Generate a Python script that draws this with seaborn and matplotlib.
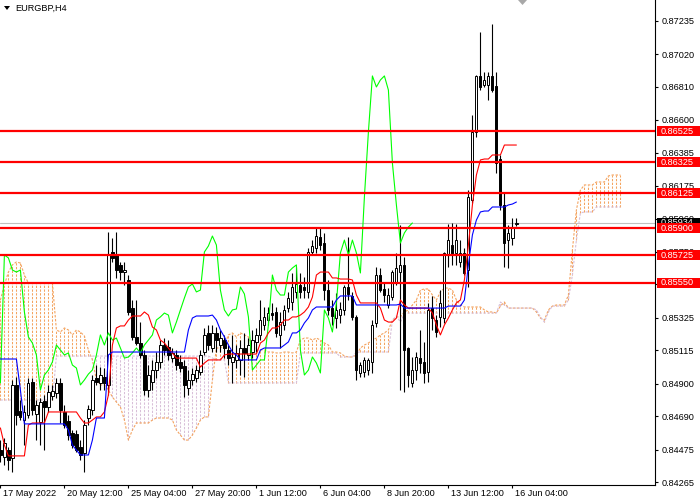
import matplotlib
matplotlib.use("Agg")
import numpy as np
import matplotlib.pyplot as plt
import matplotlib.transforms as mtransforms
from matplotlib.patches import Rectangle, Polygon
import seaborn as sns

symbol_title = "EURGBP,H4"

opens = [0.84472, 0.84427, 0.84472, 0.84421, 0.84891, 0.84723, 0.84665, 0.84697, 0.84910, 0.84704,
         0.84652, 0.84788, 0.84749, 0.84820, 0.84839, 0.84904, 0.84717, 0.84659, 0.84581, 0.84575,
         0.84491, 0.84453, 0.84678, 0.84730, 0.84936, 0.84904, 0.84942, 0.84891, 0.85747, 0.85728,
         0.85664, 0.85618, 0.85567, 0.85386, 0.85200, 0.85161, 0.85084, 0.84858, 0.84910, 0.84987,
         0.85039, 0.85148, 0.85135, 0.85064, 0.85084, 0.85039, 0.85013, 0.84871, 0.84923, 0.84936,
         0.84974, 0.85103, 0.85226, 0.85129, 0.85226, 0.85148, 0.85180, 0.85116, 0.85039, 0.85052,
         0.85052, 0.85129, 0.85084, 0.85103, 0.85168, 0.85213, 0.85277, 0.85309, 0.85354, 0.85361,
         0.85213, 0.85277, 0.85386, 0.85425, 0.85490, 0.85535, 0.85522, 0.85490, 0.85747, 0.85773,
         0.85844, 0.85805, 0.85502, 0.85386, 0.85322, 0.85341, 0.85374, 0.85522, 0.85464, 0.85329,
         0.84968, 0.84974, 0.84987, 0.85039, 0.85290, 0.85599, 0.85509, 0.85406, 0.85457, 0.85554,
         0.85618, 0.85664, 0.85129, 0.84904, 0.84987, 0.85064, 0.85039, 0.84974, 0.85386, 0.85309,
         0.85329, 0.85322, 0.85728, 0.85792, 0.85741, 0.85683, 0.85741, 0.85631, 0.86082, 0.86520,
         0.86881, 0.86823, 0.86823, 0.86881, 0.86816, 0.86346, 0.86050, 0.85824, 0.85837, 0.85927]
highs = [0.84536, 0.84549, 0.84491, 0.84923, 0.84942, 0.84794, 0.84762, 0.84936, 0.84936, 0.84794,
         0.84807, 0.84826, 0.84891, 0.84891, 0.84936, 0.84936, 0.84762, 0.84697, 0.84601, 0.84601,
         0.84536, 0.84665, 0.84762, 0.84955, 0.85019, 0.85006, 0.85000, 0.85876, 0.85837, 0.85876,
         0.85683, 0.85683, 0.85599, 0.85438, 0.85438, 0.85296, 0.85116, 0.85019, 0.85052, 0.85103,
         0.85180, 0.85193, 0.85180, 0.85129, 0.85116, 0.85084, 0.85052, 0.84987, 0.85000, 0.85019,
         0.85116, 0.85258, 0.85277, 0.85277, 0.85264, 0.85245, 0.85213, 0.85148, 0.85213, 0.85148,
         0.85180, 0.85226, 0.85193, 0.85245, 0.85258, 0.85438, 0.85393, 0.85393, 0.85419, 0.85393,
         0.85361, 0.85406, 0.85490, 0.85612, 0.85651, 0.85612, 0.85586, 0.85773, 0.85824, 0.85902,
         0.85902, 0.85870, 0.85567, 0.85438, 0.85483, 0.85425, 0.85535, 0.85844, 0.85490, 0.85341,
         0.85039, 0.85071, 0.85064, 0.85309, 0.85651, 0.85644, 0.85547, 0.85515, 0.85631, 0.85741,
         0.85921, 0.85715, 0.85135, 0.85071, 0.85103, 0.85245, 0.85168, 0.85419, 0.85464, 0.85341,
         0.85502, 0.85747, 0.85927, 0.85934, 0.85927, 0.85824, 0.85773, 0.86146, 0.86629, 0.86887,
         0.87164, 0.86906, 0.86906, 0.87215, 0.86906, 0.86372, 0.86127, 0.85921, 0.85966, 0.85966]
lows = [0.84395, 0.84375, 0.84343, 0.84330, 0.84633, 0.84665, 0.84504, 0.84678, 0.84697, 0.84536,
        0.84504, 0.84472, 0.84717, 0.84794, 0.84807, 0.84646, 0.84614, 0.84536, 0.84485, 0.84459,
        0.84408, 0.84330, 0.84633, 0.84697, 0.84891, 0.84858, 0.84858, 0.84826, 0.85683, 0.85580,
        0.85567, 0.85535, 0.85341, 0.85180, 0.85148, 0.85064, 0.84826, 0.84813, 0.84858, 0.84936,
        0.85000, 0.85084, 0.85052, 0.85039, 0.84987, 0.84974, 0.84813, 0.84826, 0.84891, 0.84910,
        0.84955, 0.85084, 0.85116, 0.85103, 0.85103, 0.85103, 0.85064, 0.85019, 0.84904, 0.85000,
        0.84955, 0.84942, 0.85052, 0.85064, 0.85103, 0.85180, 0.85245, 0.85277, 0.85309, 0.85200,
        0.85129, 0.85245, 0.85361, 0.85374, 0.85451, 0.85451, 0.85451, 0.85451, 0.85728, 0.85741,
        0.85760, 0.85438, 0.85341, 0.85277, 0.85258, 0.85290, 0.85341, 0.85438, 0.85309, 0.84923,
        0.84942, 0.84942, 0.84955, 0.84968, 0.85264, 0.85490, 0.85425, 0.85386, 0.85438, 0.85535,
        0.84858, 0.84846, 0.84878, 0.84878, 0.84923, 0.84968, 0.84904, 0.84910, 0.85245, 0.85200,
        0.85264, 0.85290, 0.85651, 0.85664, 0.85664, 0.85651, 0.85599, 0.85522, 0.86063, 0.86488,
        0.86790, 0.86810, 0.86726, 0.86778, 0.86256, 0.86018, 0.85651, 0.85644, 0.85792, 0.85915]
closes = [0.84440, 0.84517, 0.84408, 0.84891, 0.84697, 0.84685, 0.84717, 0.84904, 0.84730, 0.84762,
          0.84781, 0.84749, 0.84846, 0.84852, 0.84904, 0.84730, 0.84633, 0.84569, 0.84504, 0.84472,
          0.84440, 0.84633, 0.84736, 0.84923, 0.84910, 0.84955, 0.84904, 0.85728, 0.85709, 0.85631,
          0.85618, 0.85631, 0.85361, 0.85200, 0.85161, 0.85084, 0.84858, 0.84955, 0.84987, 0.85039,
          0.85148, 0.85116, 0.85084, 0.85097, 0.85019, 0.85000, 0.84891, 0.84923, 0.84961, 0.84987,
          0.85084, 0.85213, 0.85148, 0.85226, 0.85180, 0.85193, 0.85129, 0.85064, 0.85071, 0.85097,
          0.85129, 0.85097, 0.85148, 0.85180, 0.85213, 0.85309, 0.85329, 0.85354, 0.85341, 0.85226,
          0.85296, 0.85374, 0.85451, 0.85522, 0.85541, 0.85490, 0.85502, 0.85747, 0.85786, 0.85850,
          0.85792, 0.85502, 0.85374, 0.85335, 0.85374, 0.85380, 0.85522, 0.85477, 0.85329, 0.84987,
          0.85019, 0.85052, 0.85052, 0.85277, 0.85599, 0.85502, 0.85470, 0.85470, 0.85618, 0.85644,
          0.85664, 0.85116, 0.84955, 0.84987, 0.85071, 0.85032, 0.84968, 0.85374, 0.85322, 0.85232,
          0.85419, 0.85741, 0.85824, 0.85728, 0.85824, 0.85741, 0.85612, 0.86101, 0.86520, 0.86881,
          0.86810, 0.86855, 0.86881, 0.86790, 0.86320, 0.86050, 0.85805, 0.85870, 0.85908, 0.85934]

tenkan = [0.84614, 0.84504, 0.84434, 0.84434, 0.84434, 0.84434, 0.84434, 0.84633, 0.84646, 0.84646,
          0.84646, 0.84646, 0.84717, 0.84717, 0.84717, 0.84717, 0.84717, 0.84717, 0.84717, 0.84717,
          0.84678, 0.84646, 0.84646, 0.84665, 0.84685, 0.84685, 0.84717, 0.84826, 0.85148, 0.85258,
          0.85271, 0.85271, 0.85309, 0.85335, 0.85335, 0.85335, 0.85361, 0.85341, 0.85264, 0.85245,
          0.85180, 0.85161, 0.85129, 0.85097, 0.85064, 0.85064, 0.85064, 0.85064, 0.85064, 0.85064,
          0.85006, 0.85032, 0.85052, 0.85052, 0.85052, 0.85052, 0.85084, 0.85090, 0.85090, 0.85090,
          0.85090, 0.85090, 0.85090, 0.85090, 0.85090, 0.85161, 0.85180, 0.85226, 0.85258, 0.85258,
          0.85277, 0.85309, 0.85309, 0.85329, 0.85329, 0.85341, 0.85361, 0.85393, 0.85457, 0.85599,
          0.85618, 0.85618, 0.85618, 0.85580, 0.85580, 0.85573, 0.85573, 0.85573, 0.85567, 0.85470,
          0.85419, 0.85419, 0.85419, 0.85419, 0.85419, 0.85386, 0.85309, 0.85296, 0.85296, 0.85322,
          0.85438, 0.85406, 0.85386, 0.85386, 0.85386, 0.85386, 0.85386, 0.85386, 0.85354, 0.85277,
          0.85213, 0.85277, 0.85322, 0.85374, 0.85419, 0.85438, 0.85567, 0.85792, 0.86050, 0.86243,
          0.86340, 0.86346, 0.86346, 0.86372, 0.86372, 0.86372, 0.86436, 0.86436, 0.86436, 0.86436]

kijun = [0.85058, 0.85058, 0.85058, 0.85058, 0.85058, 0.84858, 0.84640, 0.84640, 0.84640, 0.84640,
         0.84640, 0.84640, 0.84640, 0.84640, 0.84640, 0.84640, 0.84640, 0.84601, 0.84504, 0.84472,
         0.84440, 0.84440, 0.84440, 0.84536, 0.84678, 0.84678, 0.84678, 0.85084, 0.85103, 0.85103,
         0.85103, 0.85103, 0.85103, 0.85103, 0.85103, 0.85103, 0.85103, 0.85103, 0.85103, 0.85103,
         0.85103, 0.85103, 0.85103, 0.85103, 0.85103, 0.85103, 0.85103, 0.85245, 0.85322, 0.85335,
         0.85335, 0.85335, 0.85335, 0.85341, 0.85309, 0.85245, 0.85200, 0.85148, 0.85103, 0.85084,
         0.85052, 0.85052, 0.85052, 0.85052, 0.85052, 0.85116, 0.85129, 0.85129, 0.85129, 0.85129,
         0.85129, 0.85148, 0.85168, 0.85226, 0.85226, 0.85245, 0.85290, 0.85322, 0.85374, 0.85393,
         0.85393, 0.85393, 0.85393, 0.85393, 0.85438, 0.85464, 0.85464, 0.85464, 0.85464, 0.85406,
         0.85406, 0.85406, 0.85406, 0.85406, 0.85406, 0.85406, 0.85406, 0.85406, 0.85406, 0.85406,
         0.85412, 0.85386, 0.85386, 0.85386, 0.85386, 0.85386, 0.85386, 0.85386, 0.85386, 0.85386,
         0.85386, 0.85386, 0.85399, 0.85399, 0.85399, 0.85399, 0.85438, 0.85664, 0.85857, 0.85953,
         0.86005, 0.86011, 0.86011, 0.86037, 0.86037, 0.86037, 0.86037, 0.86050, 0.86056, 0.86069]

senkou_a = [0.85438, 0.85535, 0.85618, 0.85664, 0.85683, 0.85676, 0.85599, 0.85547, 0.85547, 0.85547,
            0.85547, 0.85547, 0.85547, 0.85547, 0.85245, 0.85232, 0.85258, 0.85245, 0.85213, 0.85245,
            0.85232, 0.85206, 0.85116, 0.85052, 0.84923, 0.84891, 0.84891, 0.84858, 0.84813, 0.84781,
            0.84749, 0.84665, 0.84536, 0.84601, 0.84646, 0.84646, 0.84646, 0.84646, 0.84665, 0.84678,
            0.84678, 0.84678, 0.84678, 0.84665, 0.84601, 0.84569, 0.84536, 0.84536, 0.84569, 0.84614,
            0.84665, 0.84685, 0.84685, 0.84923, 0.85129, 0.85129, 0.85148, 0.85213, 0.85226, 0.85200,
            0.85226, 0.85213, 0.85200, 0.85148, 0.85116, 0.85116, 0.85116, 0.85103, 0.85103, 0.85097,
            0.85097, 0.85103, 0.85103, 0.85097, 0.85103, 0.85180, 0.85193, 0.85193, 0.85180, 0.85193,
            0.85180, 0.85161, 0.85148, 0.85103, 0.85103, 0.85097, 0.85077, 0.85071, 0.85071, 0.85084,
            0.85129, 0.85148, 0.85161, 0.85180, 0.85193, 0.85213, 0.85226, 0.85245, 0.85309, 0.85329,
            0.85329, 0.85361, 0.85374, 0.85406, 0.85438, 0.85502, 0.85509, 0.85509, 0.85470, 0.85438,
            0.85490, 0.85515, 0.85515, 0.85502, 0.85438, 0.85406, 0.85393, 0.85393, 0.85393, 0.85393,
            0.85393, 0.85374, 0.85361, 0.85361, 0.85354, 0.85399, 0.85425, 0.85386, 0.85386, 0.85386,
            0.85386, 0.85386, 0.85386, 0.85386, 0.85361, 0.85322, 0.85309, 0.85374, 0.85399, 0.85406,
            0.85406, 0.85406, 0.85470, 0.85760, 0.86018, 0.86146, 0.86179, 0.86179, 0.86179, 0.86198,
            0.86198, 0.86198, 0.86237, 0.86243, 0.86243, 0.86243]

senkou_b = [0.84794, 0.84794, 0.84794, 0.84794, 0.84794, 0.84794, 0.84794, 0.84794, 0.84794, 0.84794,
            0.84794, 0.84794, 0.84794, 0.84794, 0.85077, 0.85077, 0.85077, 0.85077, 0.85077, 0.85077,
            0.85077, 0.85077, 0.85077, 0.85077, 0.85077, 0.85077, 0.85077, 0.85077, 0.85077, 0.85077,
            0.85077, 0.85077, 0.85077, 0.85077, 0.85077, 0.85077, 0.85077, 0.85077, 0.85077, 0.85077,
            0.85077, 0.85077, 0.85077, 0.85077, 0.85077, 0.85077, 0.85077, 0.85077, 0.85077, 0.85077,
            0.85077, 0.85077, 0.85077, 0.85064, 0.85052, 0.85052, 0.85052, 0.84904, 0.84904, 0.84904,
            0.84904, 0.84904, 0.84904, 0.84904, 0.84904, 0.84904, 0.84904, 0.84904, 0.84904, 0.84904,
            0.84904, 0.84904, 0.84904, 0.84904, 0.84904, 0.85097, 0.85097, 0.85097, 0.85097, 0.85097,
            0.85097, 0.85097, 0.85097, 0.85097, 0.85097, 0.85071, 0.85071, 0.85071, 0.85071, 0.85103,
            0.85103, 0.85103, 0.85103, 0.85103, 0.85103, 0.85103, 0.85103, 0.85103, 0.85309, 0.85335,
            0.85296, 0.85348, 0.85354, 0.85354, 0.85354, 0.85354, 0.85354, 0.85354, 0.85354, 0.85354,
            0.85354, 0.85354, 0.85354, 0.85354, 0.85354, 0.85354, 0.85354, 0.85354, 0.85354, 0.85354,
            0.85354, 0.85354, 0.85354, 0.85354, 0.85354, 0.85425, 0.85406, 0.85386, 0.85386, 0.85386,
            0.85386, 0.85386, 0.85386, 0.85386, 0.85374, 0.85329, 0.85296, 0.85361, 0.85399, 0.85399,
            0.85399, 0.85399, 0.85438, 0.85599, 0.85824, 0.85998, 0.86005, 0.86005, 0.86005, 0.86037,
            0.86037, 0.86037, 0.86037, 0.86037, 0.86037, 0.86037]

chikou_shift = 26
date_ticks = [0, 16, 32, 48, 64, 80, 96, 112, 128]
date_labels = ["17 May 2022", "20 May 12:00", "25 May 04:00", "27 May 20:00", "1 Jun 12:00",
               "6 Jun 04:00", "8 Jun 20:00", "13 Jun 12:00", "16 Jun 04:00"]
price_ticks = [0.87235, 0.87020, 0.86810, 0.86600, 0.86385, 0.86175, 0.85960, 0.85750,
               0.85540, 0.85325, 0.85115, 0.84900, 0.84690, 0.84475, 0.84265]
levels = [0.86525, 0.86325, 0.86125, 0.85900, 0.85725, 0.85550]
bid_price = 0.85934

sns.set_theme(style="white")
plt.rcParams['font.family'] = ['Liberation Sans', 'DejaVu Sans']

W, Hh = 700, 500
fig = plt.figure(figsize=(7, 5), dpi=100)
fig.patch.set_facecolor('white')
ax = fig.add_axes([0, 15 / Hh, 655 / W, 485 / Hh])
ax.set_facecolor('white')
y_top, y_bot = 0.87370, 0.842466
px = (y_top - y_bot) / 485.0

O = np.array(opens); Hi = np.array(highs); Lo = np.array(lows); C = np.array(closes)
bars = np.arange(len(O))
A = np.array(senkou_a); B = np.array(senkou_b)
cb = np.arange(len(A))

# cloud hatch
dash = (0, (2.2, 1.4))
up_c = A >= B
ax.vlines(cb[up_c], np.minimum(A, B)[up_c], np.maximum(A, B)[up_c], colors='#F4A460',
          linestyles=[dash], linewidth=0.75, zorder=1)
ax.vlines(cb[~up_c], np.minimum(A, B)[~up_c], np.maximum(A, B)[~up_c], colors='#D8BFD8',
          linestyles=[dash], linewidth=0.75, zorder=1)
sns.lineplot(x=cb, y=A, ax=ax, color='#F4A460', linewidth=0.8, linestyle=dash,
             estimator=None, errorbar=None, zorder=1.5)
sns.lineplot(x=cb, y=B, ax=ax, color='#D8BFD8', linewidth=0.8, linestyle=dash,
             estimator=None, errorbar=None, zorder=1.5)

ax.axhline(bid_price, color='#C0C0C0', linewidth=0.8, zorder=1.2)

# candles
ax.vlines(bars, Lo, Hi, colors='black', linewidth=0.8, zorder=3)
bull = C >= O
ax.bar(bars, np.abs(C - O), bottom=np.minimum(O, C), width=0.55,
       color=np.where(bull, 'white', 'black'), edgecolor='black', linewidth=0.7, zorder=3.5)

# ichimoku lines
sns.lineplot(x=bars[chikou_shift:] - chikou_shift, y=C[chikou_shift:], ax=ax, color='#00FF00',
             linewidth=0.8, estimator=None, errorbar=None, zorder=4)
sns.lineplot(x=bars, y=np.array(tenkan), ax=ax, color='#FF0000', linewidth=0.8,
             estimator=None, errorbar=None, zorder=4.2)
sns.lineplot(x=bars, y=np.array(kijun), ax=ax, color='#0000FF', linewidth=0.8,
             estimator=None, errorbar=None, zorder=4.3)

for lv in levels:
    ax.axhline(lv, color='#FF0000', linewidth=1.6, zorder=6)

ax.set_xlim(-0.1, 163.65)
ax.set_ylim(y_bot, y_top)
ax.set_xlabel(''); ax.set_ylabel('')
for s in ['top', 'left']:
    ax.spines[s].set_visible(False)
for s in ['right', 'bottom']:
    ax.spines[s].set_visible(True)
    ax.spines[s].set_color('black')
    ax.spines[s].set_linewidth(0.8)

ax.yaxis.tick_right()
ax.set_yticks(price_ticks)
ax.set_yticklabels([f"{v:.5f}" for v in price_ticks], fontsize=6.6)
ax.tick_params(axis='y', right=True, left=False, length=2.2, width=0.8, color='black',
               pad=2.5, labelcolor='black')
ax.set_xticks(date_ticks)
ax.set_xticklabels([])
ax.tick_params(axis='x', bottom=True, length=2.5, width=0.8, color='black')

trans = mtransforms.blended_transform_factory(ax.transData, ax.transAxes)
for k, lab in zip(date_ticks, date_labels):
    ax.text(k + 0.6, -4 / 485, lab, transform=trans, ha='left', va='top', fontsize=6.6,
            color='black', clip_on=False)

ftrans = mtransforms.blended_transform_factory(fig.transFigure, ax.transData)
bh = 10 * px
fig.add_artist(Rectangle((657 / W, bid_price - bh / 2), 43 / W, bh, transform=ftrans,
                         facecolor='black', edgecolor='none', zorder=9))
fig.text(661 / W, bid_price, f"{bid_price:.5f}", transform=ftrans, color='white',
         fontsize=6.6, ha='left', va='center', zorder=9.5)
for lv in levels:
    fig.add_artist(Rectangle((657 / W, lv - bh / 2), 43 / W, bh, transform=ftrans,
                             facecolor='#FF0000', edgecolor='none', zorder=10))
    fig.text(661 / W, lv, f"{lv:.5f}", transform=ftrans, color='white', fontsize=6.6,
             ha='left', va='center', zorder=11)

# title and markers
fig.add_artist(Polygon([[4 / W, 1 - 6 / Hh], [10 / W, 1 - 6 / Hh], [7 / W, 1 - 10 / Hh]],
                       closed=True, transform=fig.transFigure, facecolor='black',
                       edgecolor='none', zorder=12))
fig.text(15 / W, 1 - 8 / Hh, symbol_title, fontsize=6.6, ha='left', va='center',
         color='black', zorder=12)
fig.add_artist(Polygon([[518 / W, 1.0], [527 / W, 1.0], [522.5 / W, 1 - 5 / Hh]],
                       closed=True, transform=fig.transFigure, facecolor='#A8A8A8',
                       edgecolor='none', zorder=12))

fig.savefig("out.png", dpi=100)
